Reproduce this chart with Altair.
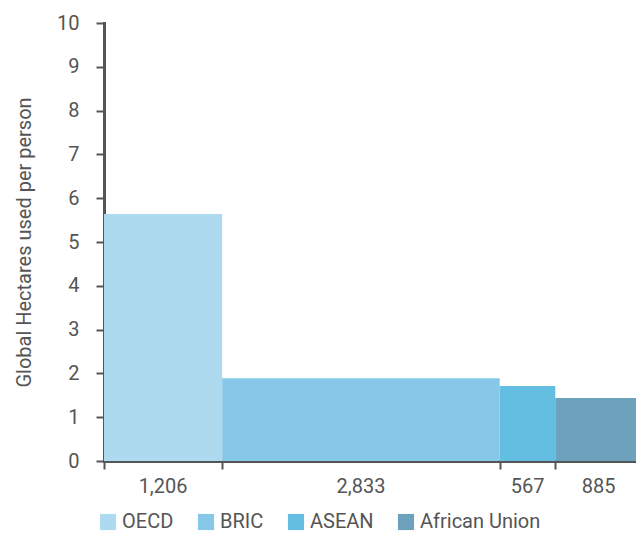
import altair as alt
import pandas as pd

groups = ["OECD", "BRIC", "ASEAN", "African Union"]
population = [1206, 2833, 567, 885]
hectares = [5.64, 1.89, 1.71, 1.44]
colors = ["#ADDAEE", "#87C8E8", "#64BEE2", "#6EA1BB"]

starts, ends = [], []
acc = 0
for p in population:
    starts.append(acc)
    acc += p
    ends.append(acc)

df = pd.DataFrame({
    "group": groups,
    "pop": population,
    "hectares": hectares,
    "x0": starts,
    "x1": ends,
    "mid": [(a + b) / 2 for a, b in zip(starts, ends)],
    "label": [f"{p:,}" for p in population],
})

FONT = "Roboto"
GREY = "#555555"
W, H = 538, 438

xscale = alt.Scale(domain=[0, acc], nice=False, zero=True)

bars = alt.Chart(df).mark_rect().encode(
    x=alt.X("x0:Q", scale=xscale,
            axis=alt.Axis(values=[0] + ends, labels=False, title=None, grid=False,
                          domainColor=GREY, domainWidth=3, tickColor=GREY,
                          tickWidth=2, tickSize=8)),
    x2="x1:Q",
    y=alt.Y("hectares:Q", scale=alt.Scale(domain=[0, 10], nice=False),
            axis=alt.Axis(values=list(range(0, 11)), title="Global Hectares used per person",
                          grid=False, domainColor=GREY, domainWidth=3, tickColor=GREY,
                          tickWidth=2, tickSize=8, labelPadding=17, labelFontSize=20,
                          labelColor=GREY, labelFont=FONT, titleFont=FONT,
                          titleFontSize=20, titleFontWeight="normal", titleColor=GREY,
                          titlePadding=22)),
    y2=alt.datum(0),
    color=alt.Color("group:N", scale=alt.Scale(domain=groups, range=colors),
                    legend=alt.Legend(title=None, orient="none", direction="horizontal",
                                      legendX=-6, legendY=H + 51, symbolType="square",
                                      symbolSize=260, symbolStrokeWidth=0,
                                      labelFont=FONT, labelFontSize=20, labelColor=GREY,
                                      columnPadding=22, labelOffset=4)),
)

labels = alt.Chart(df).mark_text(font=FONT, fontSize=20, color=GREY, baseline="middle").encode(
    x=alt.X("mid:Q", scale=xscale),
    y=alt.value(H + 26),
    text="label:N",
)

chart = alt.layer(bars, labels).properties(
    width=W, height=H,
    autosize=alt.AutoSizeParams(type="none"),
    padding={"left": 96, "top": 15, "right": -6, "bottom": 73},
).configure_view(stroke=None).configure_axis(domainCap="square")

chart.save("out.html", embed_options={"renderer": "svg", "actions": False})
